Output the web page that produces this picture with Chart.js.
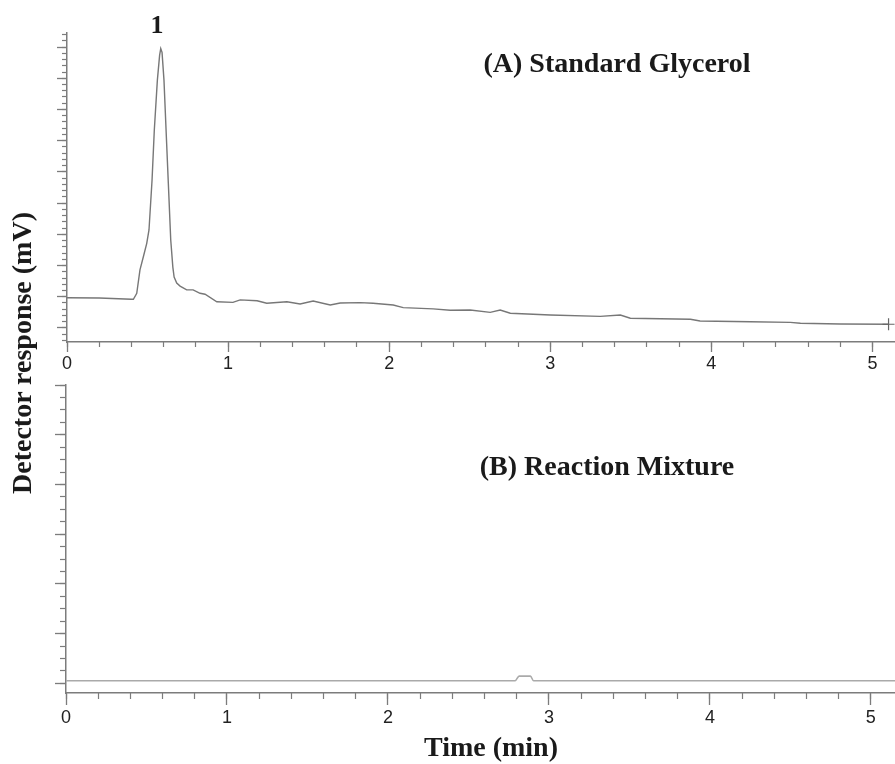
<!DOCTYPE html>
<html>
<head>
    <title>Glycerol chromatogram</title>
    <script src="https://cdn.jsdelivr.net/npm/chart.js"></script>
    <style>
        body {
            margin: 0;
            background: white;
        }
        .page {
            position: relative;
            width: 895px;
            height: 764px;
            overflow: hidden;
            background: white;
        }
        canvas {
            position: absolute;
            left: 0;
        }
        .label {
            position: absolute;
            font-family: "Liberation Serif", "Times New Roman", serif;
            font-weight: bold;
            font-size: 28px;
            line-height: 1;
            color: #1a1a1a;
            white-space: nowrap;
            transform: translate(-50%, -50%);
        }
        #yTitle {
            transform: translate(-50%, -50%) rotate(-90deg);
        }
    </style>
</head>
<body>

<div class="page">
    <canvas id="topChart" width="895" height="380" style="top:0"></canvas>
    <canvas id="bottomChart" width="895" height="384" style="top:380px"></canvas>

    <div class="label" style="left:157px; top:25px; font-size:26px">1</div>
    <div class="label" style="left:617px; top:63px">(A) Standard Glycerol</div>
    <div class="label" style="left:607px; top:466px">(B) Reaction Mixture</div>
    <div class="label" id="yTitle" style="left:22px; top:353px">Detector response (mV)</div>
    <div class="label" style="left:491px; top:747px">Time (min)</div>
</div>

<script>
// (A) standard glycerol trace
const topTime = [0, 0.20, 0.40, 0.412, 0.433, 0.453, 0.474, 0.495, 0.509, 0.528,
                 0.542, 0.561, 0.575, 0.582, 0.590, 0.602, 0.615, 0.629, 0.644, 0.657,
                 0.665, 0.681, 0.702, 0.743, 0.783, 0.826, 0.857, 0.93, 1.03, 1.075,
                 1.18, 1.24, 1.365, 1.447, 1.528, 1.634, 1.696, 1.82, 1.90, 2.025,
                 2.087, 2.273, 2.379, 2.503, 2.627, 2.689, 2.752, 3.0, 3.31, 3.435,
                 3.497, 3.87, 3.93, 4.242, 4.49, 4.553, 4.80, 5.10];
const topResponse = [0.97, 0.96, 0.92, 0.918, 1.11, 1.86, 2.28, 2.71, 3.14, 4.74,
                     6.34, 7.94, 8.74, 8.95, 8.83, 7.94, 6.34, 4.64, 2.82, 1.95,
                     1.63, 1.44, 1.34, 1.22, 1.22, 1.11, 1.08, 0.84, 0.82, 0.90,
                     0.87, 0.79, 0.84, 0.77, 0.864, 0.736, 0.80, 0.81, 0.79, 0.736,
                     0.65, 0.61, 0.566, 0.576, 0.50, 0.576, 0.47, 0.416, 0.37, 0.416,
                     0.31, 0.28, 0.224, 0.20, 0.18, 0.15, 0.128, 0.118];

// (B) reaction mixture trace
const bottomTime = [0, 2.79, 2.815, 2.885, 2.905, 5.15];
const bottomResponse = [0.05, 0.05, 0.145, 0.145, 0.05, 0.05];

const tickFont = { family: "'Liberation Sans', Arial, sans-serif", size: 18 };
const axisGray = '#7c7c7c';

function toPoints(xs, ys) {
    return xs.map((x, i) => ({ x: x, y: ys[i] }));
}

// major + minor ticks: the minor axis is squeezed to zero size so it sits on the axis line
function buildScales(p) {
    return {
        x: {
            type: 'linear', position: 'bottom', weight: 1,
            min: 0, max: p.xMax,
            ticks: { stepSize: 1, includeBounds: false, autoSkip: false, maxRotation: 0,
                     font: tickFont, color: '#222', padding: p.labelPad },
            grid: { drawOnChartArea: false, tickLength: p.xMajor, tickColor: axisGray, tickWidth: 1.3 },
            border: { color: axisGray, width: 1.5 },
            afterFit: s => { s.height = p.xHeight; }
        },
        x2: {
            type: 'linear', position: 'bottom', weight: 0,
            min: 0, max: p.xMax,
            ticks: { stepSize: 0.2, includeBounds: false, display: false },
            grid: { drawOnChartArea: false, tickLength: p.xMinor, tickColor: axisGray, tickWidth: 1.2 },
            border: { display: false },
            afterFit: s => { s.height = 0; }
        },
        y: {
            type: 'linear', position: 'left', weight: 1,
            min: p.yMin, max: p.yMax,
            ticks: { stepSize: 1, includeBounds: false, display: false },
            grid: { drawOnChartArea: false, tickLength: p.yMajor, tickColor: axisGray, tickWidth: 1.3 },
            border: { color: axisGray, width: 1.5 },
            afterFit: s => { s.width = p.left; }
        },
        y2: {
            type: 'linear', position: 'left', weight: 0,
            min: p.yMin, max: p.yMax,
            ticks: { stepSize: p.yMinorStep, includeBounds: false, display: false },
            grid: { drawOnChartArea: false, tickLength: p.yMinor, tickColor: axisGray, tickWidth: 1.2 },
            border: { display: false },
            afterFit: s => { s.width = 0; }
        }
    };
}

// Top chart
const lastTop = topTime.length - 1;
new Chart(document.getElementById('topChart'), {
    type: 'line',
    data: {
        datasets: [{
            data: toPoints(topTime, topResponse),
            borderColor: '#777777',
            borderWidth: 1.4,
            pointStyle: 'cross',
            pointRadius: ctx => ctx.dataIndex === lastTop ? 6 : 0,
            pointBorderColor: '#666',
            pointBorderWidth: 1.2,
            tension: 0,
            clip: false
        }]
    },
    options: {
        responsive: false,
        animation: false,
        layout: { autoPadding: false, padding: { top: 33, left: 0, right: 0, bottom: 0 } },
        plugins: { legend: { display: false }, tooltip: { enabled: false } },
        scales: buildScales({
            xMax: 5.14, xHeight: 38, xMajor: 10, xMinor: 5, labelPad: 1,
            yMin: -0.45, yMax: 9.45, yMinorStep: 0.2, yMajor: 10, yMinor: 5, left: 67
        })
    }
});

// Bottom chart
new Chart(document.getElementById('bottomChart'), {
    type: 'line',
    data: {
        datasets: [{
            data: toPoints(bottomTime, bottomResponse),
            borderColor: '#aaaaaa',
            borderWidth: 1.6,
            pointRadius: 0,
            cubicInterpolationMode: 'monotone'
        }]
    },
    options: {
        responsive: false,
        animation: false,
        layout: { autoPadding: false, padding: { top: 5, left: 0, right: 0, bottom: 0 } },
        plugins: { legend: { display: false }, tooltip: { enabled: false } },
        scales: buildScales({
            xMax: 5.15, xHeight: 71, xMajor: 12, xMinor: 6, labelPad: 2,
            yMin: -0.195, yMax: 6, yMinorStep: 0.25, yMajor: 11, yMinor: 6, left: 66
        })
    }
});
</script>

</body>
</html>
